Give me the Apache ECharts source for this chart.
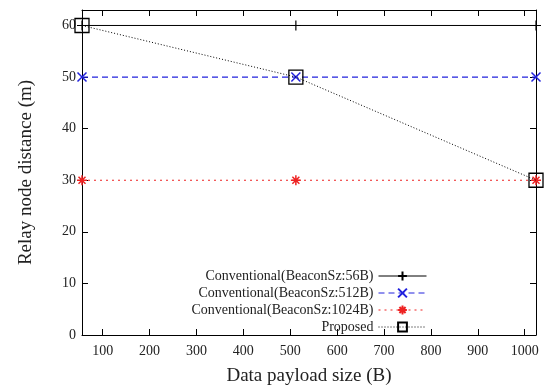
<!DOCTYPE html>
<html>
<head>
<meta charset="utf-8">
<script src="https://cdn.jsdelivr.net/npm/echarts@6/dist/echarts.min.js"></script>
<style>
  html, body { margin: 0; padding: 0; background: #fff; }
  #chart { width: 547px; height: 391px; }
</style>
</head>
<body>
<div id="chart"></div>
<script>
// data
const payloadSizes = [56, 512, 1024];
const conv56 = [60, 60, 60];
const conv512 = [50, 50, 50];
const conv1024 = [30, 30, 30];
const proposed = [60, 50, 30];
const xTicks = [100, 200, 300, 400, 500, 600, 700, 800, 900, 1000];
const yTicks = [0, 10, 20, 30, 40, 50, 60];

const seriesNames = [
    'Conventional(BeaconSz:56B)',
    'Conventional(BeaconSz:512B)',
    'Conventional(BeaconSz:1024B)',
    'Proposed',
];

const font = 'Liberation Serif';
const plusPath = 'path://M5,0L5,10M0,5L10,5';
const crossPath = 'path://M0,0L10,10M10,0L0,10';
const starPath = 'path://M5,0L5,10M0,5L10,5M1.5,1.5L8.5,8.5M8.5,1.5L1.5,8.5';

const pairs = (ys) => payloadSizes.map((x, i) => [x, ys[i]]);

const myChart = echarts.init(document.getElementById('chart'));

const baseX = {
    type: 'value',
    min: 56,
    max: 1024,
    splitLine: { show: false },
    axisLine: { show: true, onZero: false, lineStyle: { color: '#000', width: 1 } },
    axisTick: { show: true, inside: true, length: 6, customValues: xTicks, lineStyle: { color: '#000' } },
};
const baseY = {
    type: 'value',
    min: 0,
    max: 63,
    splitLine: { show: false },
    axisLine: { show: true, onZero: false, lineStyle: { color: '#000', width: 1 } },
    axisTick: { show: true, inside: true, length: 6, customValues: yTicks, lineStyle: { color: '#000' } },
};

const legendBox = (name, top) => ({
    data: [name],
    orient: 'vertical',
    align: 'right',
    right: 115,
    top: top,
    itemWidth: 48,
    itemHeight: 11,
    lineStyle: { width: 1 },
    textStyle: { fontFamily: font, fontSize: 14, color: '#222' },
    selectedMode: false,
});

const option = {
    animation: false,
    backgroundColor: '#fff',
    grid: { left: 82, right: 11, top: 10, bottom: 54 },
    xAxis: [
        Object.assign({}, baseX, {
            position: 'bottom',
            name: 'Data payload size (B)',
            nameLocation: 'middle',
            nameGap: 32,
            nameTextStyle: { fontFamily: font, fontSize: 19, color: '#222' },
            axisLabel: {
                customValues: xTicks,
                margin: 9,
                fontFamily: font,
                fontSize: 14,
                color: '#222',
                formatter: (v) => String(v),
            },
        }),
        Object.assign({}, baseX, {
            position: 'top',
            axisLabel: { show: false },
        }),
    ],
    yAxis: [
        Object.assign({}, baseY, {
            position: 'left',
            name: 'Relay node distance (m)',
            nameLocation: 'middle',
            nameGap: 46,
            nameTextStyle: { fontFamily: font, fontSize: 19, color: '#222' },
            axisLabel: { customValues: yTicks, margin: 6, fontFamily: font, fontSize: 14, color: '#222' },
        }),
        Object.assign({}, baseY, {
            position: 'right',
            axisLabel: { show: false },
        }),
    ],
    legend: [
        legendBox(seriesNames[0], 264),
        legendBox(seriesNames[1], 281),
        legendBox(seriesNames[2], 298),
        legendBox(seriesNames[3], 315),
    ],
    series: [
        {
            name: seriesNames[0],
            type: 'line',
            data: pairs(conv56),
            symbol: plusPath,
            symbolSize: 10,
            lineStyle: { color: '#000', width: 1, type: 'solid' },
            itemStyle: { color: 'none', borderColor: '#000', borderWidth: 1.2 },
        },
        {
            name: seriesNames[1],
            type: 'line',
            data: pairs(conv512),
            symbol: crossPath,
            symbolSize: 9,
            lineStyle: { color: '#2222dd', width: 1.2, type: [6, 4] },
            itemStyle: { color: 'none', borderColor: '#2222dd', borderWidth: 1.5 },
        },
        {
            name: seriesNames[2],
            type: 'line',
            data: pairs(conv1024),
            symbol: starPath,
            symbolSize: 10,
            lineStyle: { color: '#ee2222', width: 1.2, type: [2, 4] },
            itemStyle: { color: 'none', borderColor: '#ee2222', borderWidth: 1.5 },
        },
        {
            name: seriesNames[3],
            type: 'line',
            data: pairs(proposed),
            symbol: 'rect',
            symbolSize: 14,
            lineStyle: { color: '#000', width: 1, type: [1, 2] },
            itemStyle: { color: 'rgba(0,0,0,0)', borderColor: '#000', borderWidth: 1.3 },
            z: 5,
        },
    ],
};

myChart.setOption(option);
</script>
</body>
</html>
